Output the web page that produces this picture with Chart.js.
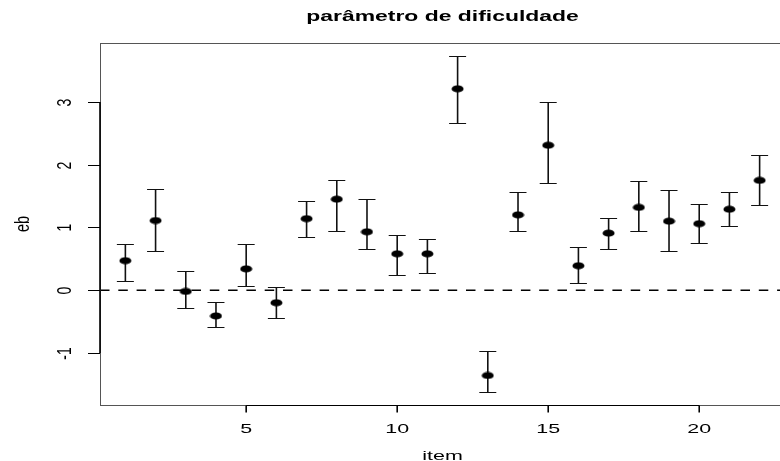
<!DOCTYPE html>
<html>
<head>
<meta charset="utf-8">
<script src="https://cdn.jsdelivr.net/npm/chart.js@4.4.1/dist/chart.umd.min.js"></script>
<style>
  html, body { margin: 0; padding: 0; background: #fff; overflow: hidden; }
  #wrap { width: 780px; height: 461px; overflow: hidden; }
</style>
</head>
<body>
<div id="wrap"><canvas id="canvas" width="800" height="461"></canvas></div>
<script>
// item numbers and difficulty estimates (eb) with their intervals
const items = [1, 2, 3, 4, 5, 6, 7, 8, 9, 10, 11, 12, 13, 14, 15, 16, 17, 18, 19, 20, 21, 22];
const eb = [0.47, 1.11, -0.02, -0.41, 0.34, -0.20, 1.14, 1.45, 0.93, 0.58, 0.58,
            3.21, -1.36, 1.20, 2.31, 0.39, 0.91, 1.32, 1.10, 1.06, 1.29, 1.75];
const upper = [0.73, 1.62, 0.30, -0.19, 0.73, 0.05, 1.42, 1.76, 1.45, 0.88, 0.82,
               3.73, -0.97, 1.57, 3.00, 0.69, 1.15, 1.74, 1.60, 1.38, 1.57, 2.16];
const lower = [0.14, 0.63, -0.29, -0.59, 0.06, -0.44, 0.84, 0.95, 0.65, 0.24, 0.27,
               2.67, -1.62, 0.94, 1.70, 0.12, 0.65, 0.95, 0.62, 0.75, 1.02, 1.35];
const xTicks = [5, 10, 15, 20];
const yTicks = [-1, 0, 1, 2, 3];
const refLine = 0;

const chartTitle = "parâmetro de dificuldade";
const xTitle = "item";
const yTitle = "eb";

// the picture is stretched sideways, so text and dots are too
const SX = 1.65;
const FONT = '"Liberation Sans", Arial, Helvetica, sans-serif';

function stretchedText(ctx, txt, x, y, font, align, baseline, rot, sx) {
    ctx.save();
    ctx.translate(x, y);
    ctx.scale(sx || SX, 1);
    if (rot) ctx.rotate(rot);
    ctx.font = font;
    ctx.fillStyle = '#000';
    ctx.textAlign = align;
    ctx.textBaseline = baseline;
    ctx.fillText(txt, 0, 0);
    ctx.restore();
}

// filled ellipse used as point style
const dot = document.createElement('canvas');
dot.width = 13;
dot.height = 8;
(function() {
    const c = dot.getContext('2d');
    c.fillStyle = '#000';
    c.beginPath();
    c.ellipse(6.5, 4, 6, 3.6, 0, 0, Math.PI * 2);
    c.fill();
})();

const rPlot = {
    id: 'rPlot',
    beforeDatasetsDraw(chart) {
        const ctx = chart.ctx;
        const xs = chart.scales.x, ys = chart.scales.y;
        const a = chart.chartArea;

        // dashed reference line
        ctx.save();
        ctx.beginPath();
        ctx.rect(a.left, a.top, a.right - a.left, a.bottom - a.top);
        ctx.clip();
        ctx.strokeStyle = '#000';
        ctx.lineWidth = 1.5;
        ctx.setLineDash([9.5, 8.8]);
        const y0 = ys.getPixelForValue(refLine);
        ctx.beginPath();
        ctx.moveTo(a.left, y0);
        ctx.lineTo(a.right, y0);
        ctx.stroke();
        ctx.restore();

        // error bars
        ctx.save();
        ctx.strokeStyle = '#111';
        items.forEach((it, i) => {
            const x = xs.getPixelForValue(it);
            const yu = Math.round(ys.getPixelForValue(upper[i])) + 0.5;
            const yl = Math.round(ys.getPixelForValue(lower[i])) + 0.5;
            ctx.lineWidth = 1.6;
            ctx.beginPath();
            ctx.moveTo(x, yu);
            ctx.lineTo(x, yl);
            ctx.stroke();
            ctx.lineWidth = 1;
            ctx.beginPath();
            ctx.moveTo(x - 8.5, yu);
            ctx.lineTo(x + 8.5, yu);
            ctx.moveTo(x - 8.5, yl);
            ctx.lineTo(x + 8.5, yl);
            ctx.stroke();
        });
        ctx.restore();
    },
    afterDraw(chart) {
        const ctx = chart.ctx;
        const xs = chart.scales.x, ys = chart.scales.y;
        const a = chart.chartArea;
        const L = Math.round(a.left) + 0.5, T = Math.round(a.top) + 0.5;
        const B = Math.round(a.bottom) + 0.5, R = Math.round(a.right) + 0.5;

        ctx.save();
        // box
        ctx.strokeStyle = '#555';
        ctx.lineWidth = 1;
        ctx.strokeRect(L, T, R - L, B - T);

        // y axis
        ctx.strokeStyle = '#000';
        ctx.lineWidth = 1.6;
        ctx.beginPath();
        ctx.moveTo(a.left, ys.getPixelForValue(yTicks[0]));
        ctx.lineTo(a.left, ys.getPixelForValue(yTicks[yTicks.length - 1]));
        ctx.stroke();
        ctx.lineWidth = 1;
        yTicks.forEach(v => {
            const y = Math.round(ys.getPixelForValue(v)) + 0.5;
            ctx.beginPath();
            ctx.moveTo(a.left - 12, y);
            ctx.lineTo(a.left, y);
            ctx.stroke();
            stretchedText(ctx, String(v), a.left - 35, y, '14px ' + FONT, 'center', 'middle', -Math.PI / 2, 1.45);
        });

        // x axis
        ctx.lineWidth = 1;
        ctx.beginPath();
        ctx.moveTo(xs.getPixelForValue(xTicks[0]), B);
        ctx.lineTo(xs.getPixelForValue(xTicks[xTicks.length - 1]), B);
        ctx.stroke();
        ctx.lineWidth = 1.6;
        xTicks.forEach(v => {
            const x = xs.getPixelForValue(v);
            ctx.beginPath();
            ctx.moveTo(x, B);
            ctx.lineTo(x, B + 7);
            ctx.stroke();
            stretchedText(ctx, String(v), x, 432.5, '13px ' + FONT, 'center', 'alphabetic');
        });
        ctx.restore();

        const cx = (a.left + a.right) / 2;
        stretchedText(ctx, chartTitle, cx, 20.5, 'bold 14.5px ' + FONT, 'center', 'alphabetic', 0, 1.58);
        stretchedText(ctx, xTitle, cx, 459.5, '13px ' + FONT, 'center', 'alphabetic');
        stretchedText(ctx, yTitle, 23, (a.top + a.bottom) / 2, '14.5px ' + FONT, 'center', 'middle', -Math.PI / 2, 1.45);
    }
};

const canvas = document.getElementById('canvas');
const ctx = canvas.getContext('2d');

new Chart(ctx, {
    type: 'scatter',
    data: {
        datasets: [{
            data: items.map((it, i) => ({ x: it, y: eb[i] })),
            pointStyle: dot,
            pointRadius: 6,
            pointHoverRadius: 6,
            backgroundColor: '#000',
            borderColor: '#000'
        }]
    },
    options: {
        responsive: false,
        animation: false,
        events: [],
        layout: {
            padding: { left: 100, top: 42.7, right: 15, bottom: 55.7 }
        },
        plugins: {
            legend: { display: false },
            tooltip: { enabled: false },
            title: { display: false }
        },
        scales: {
            x: {
                type: 'linear',
                display: false,
                min: 0.16,
                max: 22.84
            },
            y: {
                type: 'linear',
                display: false,
                min: -1.835,
                max: 3.944
            }
        }
    },
    plugins: [rPlot]
});
</script>
</body>
</html>
